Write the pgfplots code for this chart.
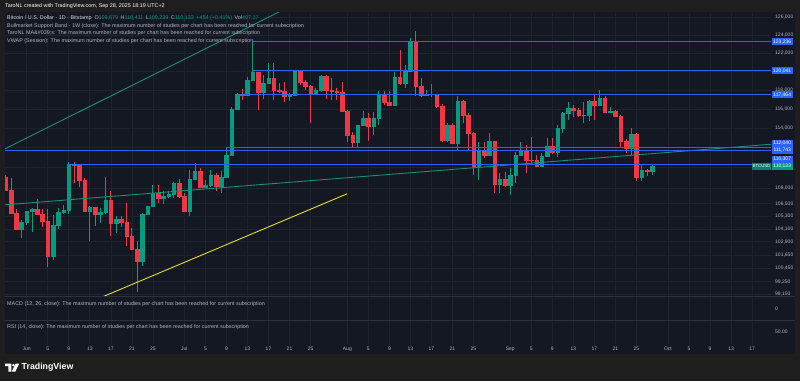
\documentclass[border=0pt]{standalone}
\usepackage{pgfplots}
\pgfplotsset{compat=1.18}
\usepackage{pgfplotstable}
\usepackage{fontspec}
\setmainfont{Liberation Sans}
\definecolor{pagebg}{RGB}{30,30,30}
\definecolor{chartbg}{RGB}{20,24,35}
\definecolor{gridc}{RGB}{31,35,47}
\definecolor{sepc}{RGB}{46,50,62}
\definecolor{tvgreen}{RGB}{8,153,129}
\definecolor{tvred}{RGB}{242,54,69}
\definecolor{tvblue}{RGB}{41,98,255}
\definecolor{tvteal}{RGB}{22,145,118}
\definecolor{tvyellow}{RGB}{232,218,60}
\definecolor{txt}{RGB}{178,181,190}
\definecolor{txtl}{RGB}{209,212,220}
\newcommand\sm{\fontsize{5.4}{6}\selectfont}
\newcommand\tk{\fontsize{5}{6}\selectfont}

\pgfplotstableread{
d o h l c
-4 109070 109300 107760 107830
-3 107830 108970 105520 105590
-2 105590 105970 103950 104080
-1 104080 104950 103200 104700
0 104700 105840 104480 105740
1 105740 106070 103800 105970
2 105970 106930 105400 105460
3 105460 105970 104320 104790
4 104790 105970 100540 101600
5 101600 105430 101230 104480
6 104480 106070 104080 105650
7 105650 106380 105520 105900
8 105900 110620 105520 110360
9 110360 110620 108490 110290
10 110290 110360 108150 108740
11 108740 108970 105710 105780
12 105780 106290 102920 106160
13 106160 106220 104390 105520
14 105520 106070 104640 105680
15 105680 109070 105520 106860
16 106860 107760 103450 104640
17 104640 105270 103700 105020
18 105020 105270 104260 104740
19 104740 106550 102460 103390
20 103390 104170 102150 102220
21 102220 102920 98380 101080
22 101080 105600 100690 105520
23 105520 106290 105430 106220
24 106220 108320 106220 107510
25 107510 108320 106550 106990
26 106990 107670 106480 107180
27 107180 107670 107060 107380
28 107380 108640 107060 108490
29 108490 108910 107060 107180
30 107180 107510 105710 105740
31 105740 109790 105270 108880
32 108880 110520 108880 109630
33 109630 109960 108030 108090
34 108090 108810 107960 108320
35 108320 109790 108150 109300
36 109300 109470 107670 108220
37 108220 109630 107570 109030
38 109030 112120 108970 111290
39 111290 116240 111200 116000
40 116000 117720 115900 117580
41 117580 118080 116950 117440
42 117440 119430 117300 119070
43 119070 123240 119000 119860
44 119860 119970 115900 117720
45 117720 119610 117020 118720
46 118720 120950 118720 119260
47 119260 120880 116950 118010
48 118010 118720 117690 117830
49 117830 118890 116770 117300
50 117300 117720 116810 117440
51 117440 120150 117370 119970
52 119970 120150 118540 118790
53 118790 119070 118010 118360
54 118360 118540 114580 117580
55 117580 118220 117480 118010
56 118010 119610 117790 119510
57 119510 119610 117020 117930
58 117930 119260 116950 117900
59 117900 118220 116950 117760
60 117760 118830 115660 115720
61 115720 115900 112630 113240
62 113240 113590 112040 112570
63 112570 114340 111980 114270
64 114270 115790 114270 115030
65 115030 115550 112700 114170
66 114170 115660 113310 115030
67 115030 117830 114340 117550
68 117550 117830 116420 116710
69 116710 117900 116420 116420
70 116420 119970 116420 119320
71 119320 122340 118540 118680
72 118680 120700 118190 120040
73 120040 123640 120040 123260
74 123260 124450 117300 118360
75 118360 119260 117260 117480
76 117480 118010 117300 117510
77 117510 118610 117260 117580
78 117580 117600 116110 116240
79 116240 116500 112630 112800
80 112800 114520 112630 114270
81 114270 114520 112400 112470
82 112470 117400 111690 116840
83 116840 116910 114520 115380
84 115380 115550 111790 113490
85 113490 113590 109300 110120
86 110120 112630 108810 111790
87 111790 112630 110990 111290
88 111290 113460 111190 112630
89 112630 112700 107510 108390
90 108390 109470 107510 108880
91 108880 109530 108150 108320
92 108320 109990 107350 109300
93 109300 111620 108490 111290
94 111290 112630 111190 111790
95 111790 112300 109470 110790
96 110790 113110 110290 110720
97 110720 111290 110150 110190
98 110190 111520 110190 111190
99 111190 112980 111090 112120
100 112120 113010 111390 111520
101 111520 114340 111090 114000
102 114000 115720 113550 115550
103 115550 116770 114860 116070
104 116070 116420 115200 115900
105 115900 116070 115200 115300
106 115300 116770 114520 115380
107 115380 116950 114780 116840
108 116840 117480 114860 116420
109 116420 118010 116320 117120
110 117120 117300 115550 115660
111 115660 116240 115550 115790
112 115790 115900 115170 115270
113 115270 115380 112120 112700
114 112700 112880 111520 111980
115 111980 114000 111290 113390
116 113390 113550 108740 109070
117 109070 110390 108740 109720
118 109720 109860 109200 109679
119 109679 110411 109239 110133
}\candles

\begin{document}
\begin{tikzpicture}[x=1pt,y=1pt]
\path[use as bounding box] (0,0) rectangle (800,381);
\fill[pagebg] (0,0) rectangle (800,381);
\fill[chartbg] (5,27) rectangle (795,368.5);

% time grid + date labels
\begin{axis}[
  at={(5pt,36pt)}, anchor=south west,
  width=766pt, height=332pt, scale only axis,
  xmin=-4.13, xmax=141.6, ymin=0, ymax=1,
  axis line style={draw=none},
  ytick=\empty,
  xtick={0,4,8,12,16,20,24,30,34,38,42,46,50,54,61,65,69,73,77,81,85,92,96,100,104,108,112,116,122,126,130,134,138},
  xticklabels={Jun,5,9,13,17,21,25,Jul,5,9,13,17,21,25,Aug,5,9,13,17,21,25,Sep,5,9,13,17,21,25,Oct,5,9,13,17},
  xmajorgrids, grid style={gridc, line width=0.6pt},
  major tick length=0pt,
  xticklabel style={font=\tk, text=txt, inner sep=0pt, anchor=north, yshift=-1.2pt, text height=3.6pt, text depth=0pt},
]
\end{axis}

% pane separators
\draw[sepc, line width=0.8pt] (5,84.5) -- (795,84.5);
\draw[sepc, line width=0.8pt] (5,61) -- (795,61);

% price pane
\begin{axis}[
  at={(5pt,85pt)}, anchor=south west,
  width=766pt, height=283pt, scale only axis,
  xmin=-4.13, xmax=141.6,
  ymode=log, ymin=97998, ymax=126489,
  axis line style={draw=none},
  xtick=\empty,
  ytick={98150,99250,100450,101650,102900,104100,105300,106500,108000,110000,112000,114000,116000,118000,120000,122000,124000,126000},
  yticklabels={{98,150},{99,250},{100,450},{101,650},{102,900},{104,100},{105,300},{106,500},{108,000},{},{},{114,000},{116,000},{118,000},{},{122,000},{124,000},{126,000}},
  yticklabel pos=right,
  minor tick num=0,
  major tick length=0pt,
  ymajorgrids, grid style={gridc, line width=0.6pt},
  yticklabel style={font=\tk, text=txt, anchor=west, inner sep=0pt, xshift=4pt},
]
\pgfplotstablegetrowsof{\candles}
\pgfmathtruncatemacro{\lastrow}{\pgfplotsretval-1}
\pgfplotsforeachungrouped \i in {0,...,\lastrow}{%
  \pgfplotstablegetelem{\i}{d}\of\candles \let\cd\pgfplotsretval
  \pgfplotstablegetelem{\i}{o}\of\candles \let\co\pgfplotsretval
  \pgfplotstablegetelem{\i}{h}\of\candles \let\ch\pgfplotsretval
  \pgfplotstablegetelem{\i}{l}\of\candles \let\cl\pgfplotsretval
  \pgfplotstablegetelem{\i}{c}\of\candles \let\cc\pgfplotsretval
  \ifnum\fpeval{\cc<\co}=1 \def\ccol{tvred}\else\def\ccol{tvgreen}\fi
  \pgfmathsetmacro\xa{\cd-0.34}%
  \pgfmathsetmacro\xb{\cd+0.34}%
  \edef\temp{%
    \noexpand\addplot[draw=\ccol, line width=0.8pt] coordinates {(\cd,\cl) (\cd,\ch)};
    \noexpand\addplot[draw=\ccol, fill=\ccol, line width=0.4pt] coordinates {(\xa,\co) (\xb,\co) (\xb,\cc) (\xa,\cc)} -- cycle;
  }\temp
}
% trend lines
\addplot[tvteal, line width=0.9pt] coordinates {(-4.13,111890) (60,130251)};
\addplot[tvteal, line width=0.9pt] coordinates {(-4.13,106382) (141.6,112355)};
\addplot[tvyellow, line width=0.9pt] coordinates {(13.95,97814) (60.94,107442)};
% horizontal levels
\addplot[tvblue, line width=1pt] coordinates {(43,123236) (141.6,123236)};
\addplot[tvblue, line width=1pt] coordinates {(43,120041) (141.6,120041)};
\addplot[tvblue, line width=1pt] coordinates {(40.6,117464) (141.6,117464)};
\addplot[tvblue, line width=1pt] coordinates {(38,112040) (141.6,112040)};
\addplot[tvblue, line width=1pt] coordinates {(38,112040) (38,111743)};
\addplot[tvblue, line width=1pt] coordinates {(-4.13,111743) (141.6,111743)};
\addplot[tvblue, line width=1pt] coordinates {(8,110307) (141.6,110307)};
\end{axis}

% header texts
\node[anchor=west, inner sep=0, text=white!88] at (5,375) {\sm TaroNL created with TradingView.com, Sep 28, 2025 18:19 UTC+2};
\node[anchor=west, inner sep=0] at (7,363.3) {\sm\color{txtl}Bitcoin / U.S. Dollar · 1D · Bitstamp\hspace{3pt}\color{txt}O\color{tvgreen}109,679\hspace{2.5pt}\color{txt}H\color{tvgreen}110,411\hspace{2.5pt}\color{txt}L\color{tvgreen}109,239\hspace{2.5pt}\color{txt}C\color{tvgreen}110,133\hspace{2.5pt}+454 (+0.41\%)\hspace{2.5pt}\color{txt}Vol\color{tvgreen}407.17};
\node[anchor=west, inner sep=0, text=txt] at (7,355.3) {\sm Bullmarket Support Band · 1W (close): The maximum number of studies per chart has been reached for current subscription};
\node[anchor=west, inner sep=0, text=txt] at (7,347.7) {\sm TaroNL MA\&\#039;s: The maximum number of studies per chart has been reached for current subscription};
\node[anchor=west, inner sep=0, text=txt] at (7,340.3) {\sm VWAP (Session): The maximum number of studies per chart has been reached for current subscription};

% lower panes
\node[anchor=west, inner sep=0, text=txt] at (7,77) {\sm MACD (12, 26, close): The maximum number of studies per chart has been reached for current subscription};
\node[anchor=west, inner sep=0, text=txt] at (7,54) {\sm RSI (14, close): The maximum number of studies per chart has been reached for current subscription};
\node[anchor=west, inner sep=0, text=txt] at (775,72.7) {\tk 0};
\node[anchor=west, inner sep=0, text=txt] at (775,49.3) {\tk 50.00};

% price boxes
\foreach \yy/\lab in {339/{123,236},310/{120,041},286/{117,464},238/{112,040},231/{111,743},222/{110,307}}{
  \fill[tvblue] (771.5,\yy-3.5) rectangle (793,\yy+3.5);
  \node[text=white, inner sep=0] at (782.2,\yy) {\tk\lab};
}
\fill[tvgreen] (771.5,211) rectangle (793,218);
\node[text=white, inner sep=0] at (782.2,214.5) {\tk 110,133};
\fill[tvgreen!85!black] (752,211) rectangle (771,218);
\node[text=white!90, inner sep=0] at (761.5,214.5) {\fontsize{4.3}{5}\selectfont BTCUSD};

% logo
\fill[white] (5,17.5) rectangle (11.3,15) (8.3,15) rectangle (11.3,9.5);
\fill[white] (13.4,15.9) circle (1.35);
\fill[white] (15.6,17.5) -- (19.2,17.5) -- (15.4,9.5) -- (11.8,9.5) -- cycle;
\node[anchor=west, inner sep=0, text=white] at (21.5,13.3) {\fontsize{8.8}{10}\selectfont\bfseries TradingView};
\end{tikzpicture}
\end{document}
